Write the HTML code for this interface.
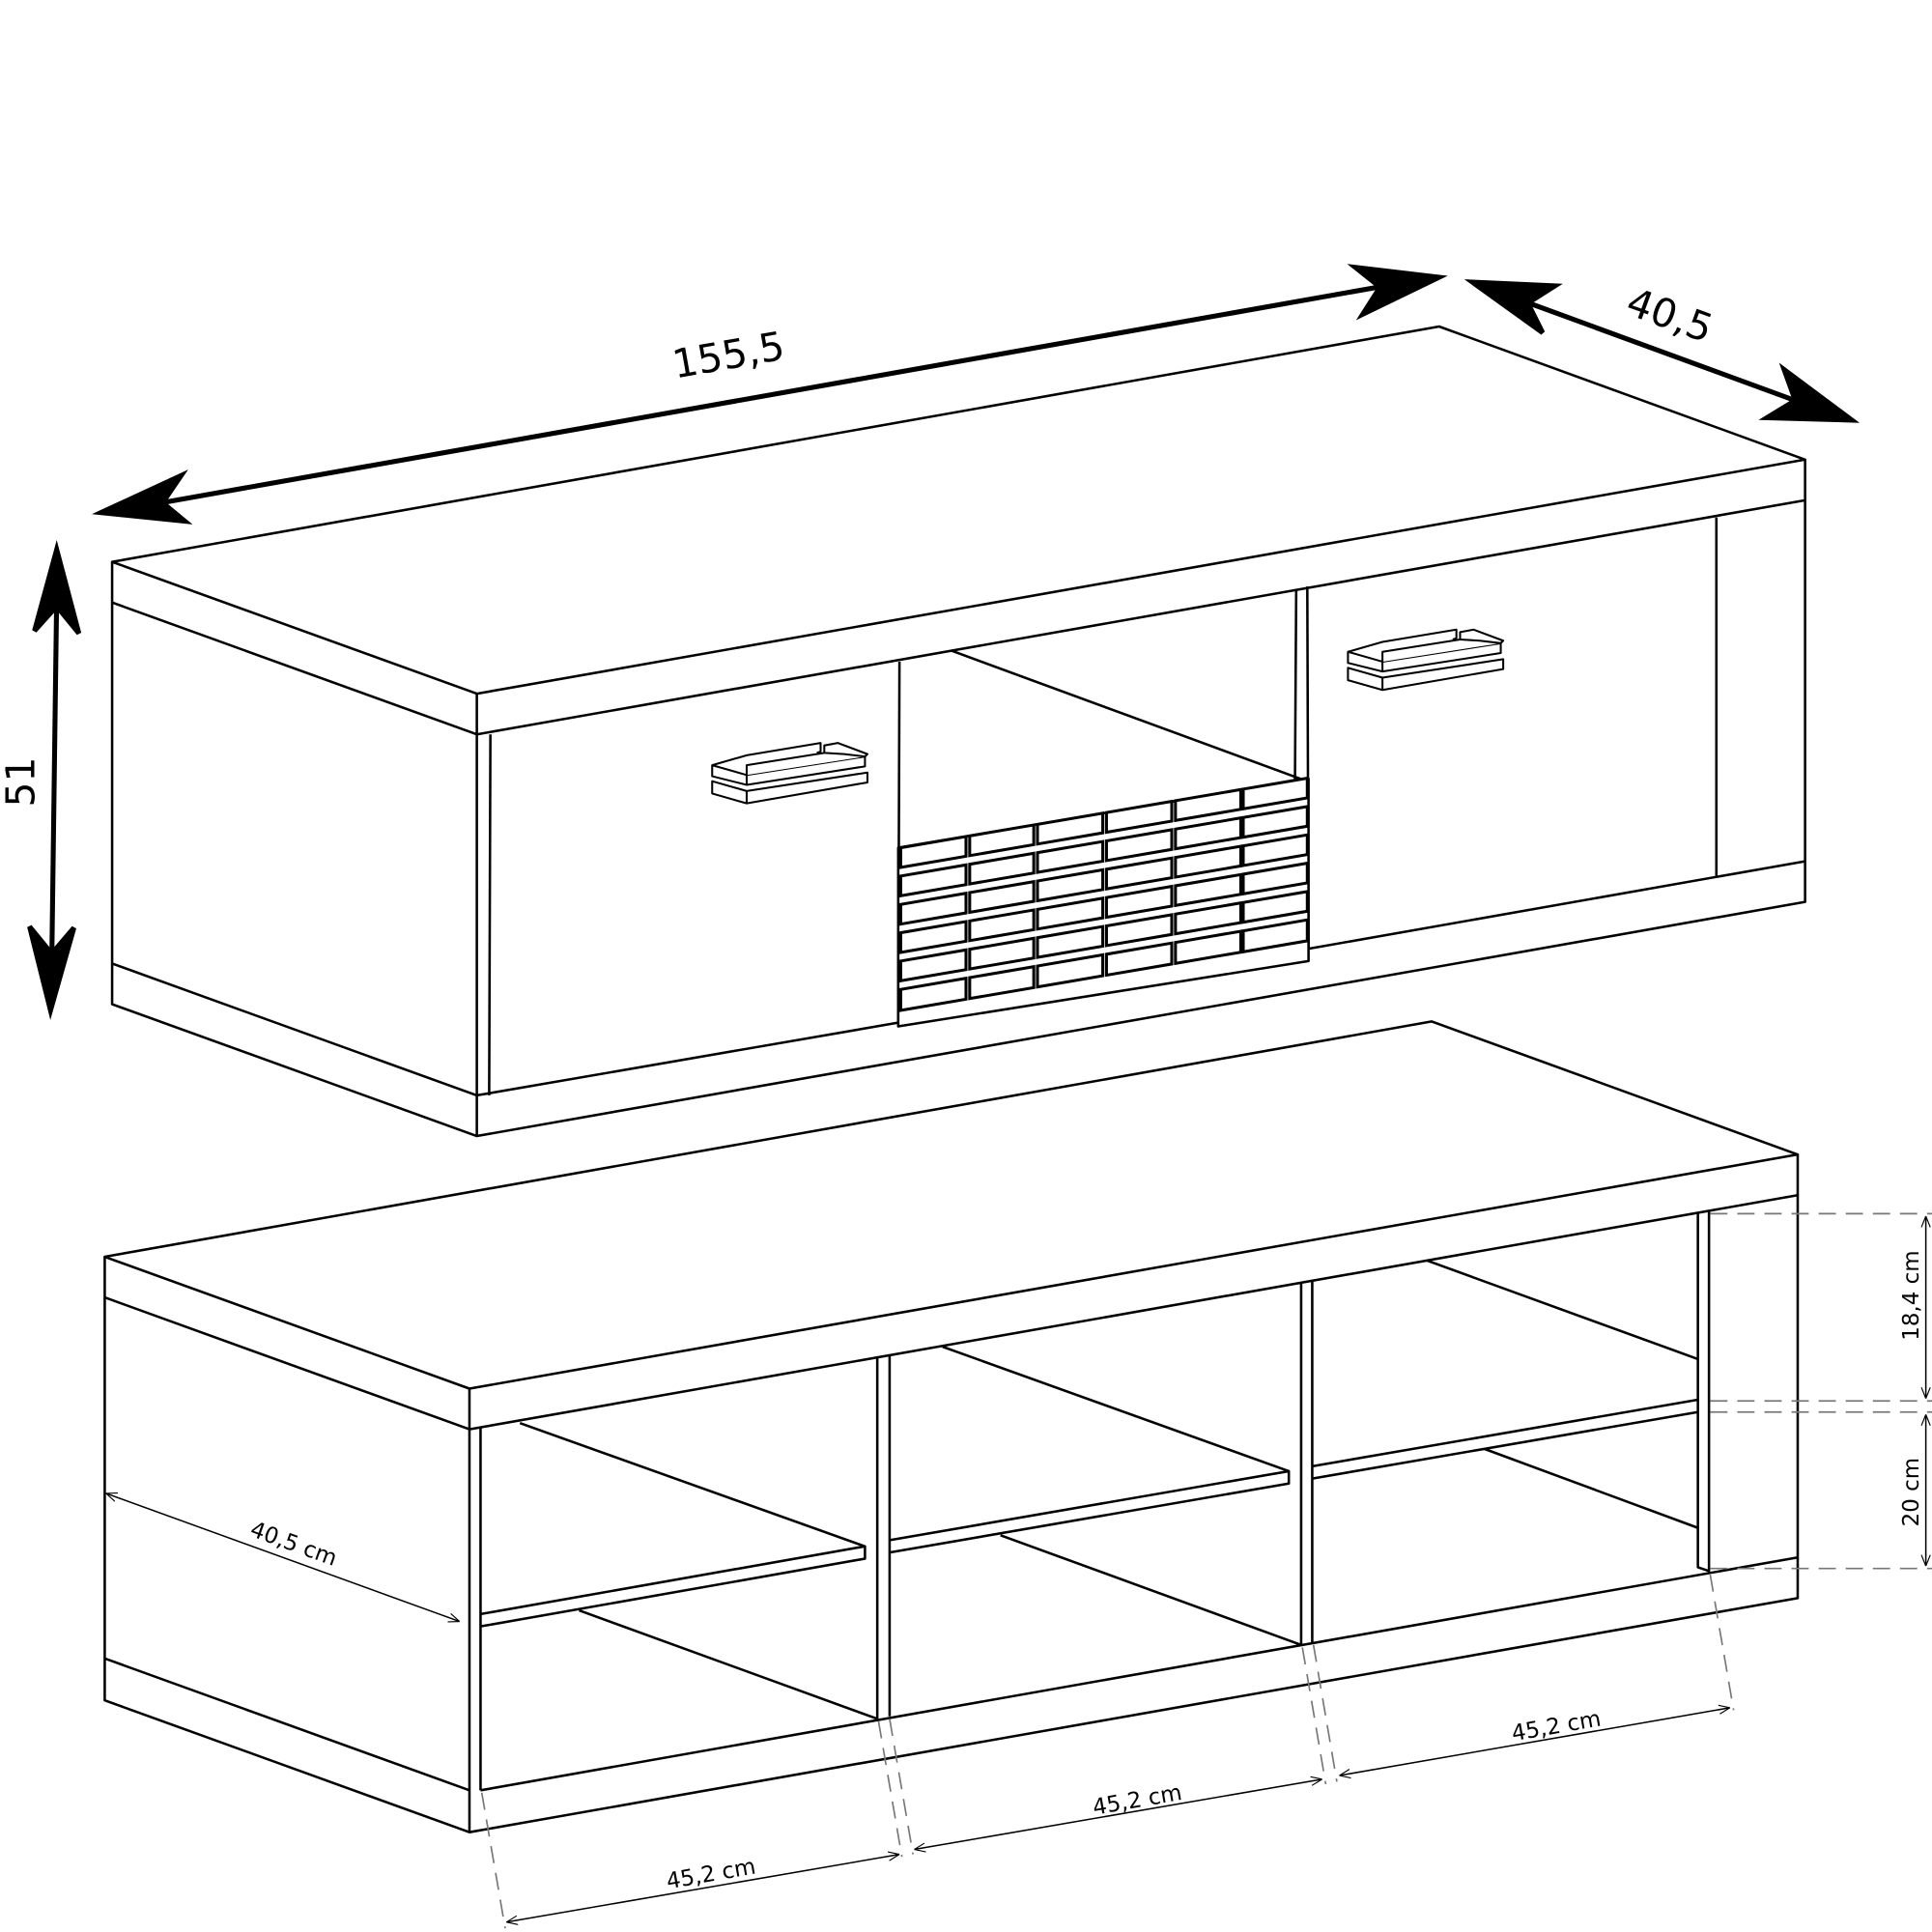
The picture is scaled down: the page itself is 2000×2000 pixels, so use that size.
<!DOCTYPE html>
<html><head><style>html,body{margin:0;padding:0;background:#fff}svg{display:block}</style></head>
<body>
<svg width="2000" height="2000" viewBox="0 0 1568 1568" xmlns="http://www.w3.org/2000/svg" font-family="DejaVu Sans, Liberation Sans, sans-serif">
<defs>
<marker id="sa" viewBox="0 0 10 10" refX="10" refY="5" markerWidth="9" markerHeight="9" orient="auto-start-reverse" markerUnits="userSpaceOnUse"><path d="M0,1 L10,5 L0,9" fill="none" stroke="#000" stroke-width="1"/></marker>
<g id="handle" fill="#fff" stroke="#000" stroke-width="1.6" stroke-linejoin="round">
<polygon points="578,634 606,642 704,627 704,635 606,652 578,644"/>
<line x1="606" y1="642" x2="606" y2="652"/>
<polygon points="578,621 606,629 702,614 702,622 606,637 578,630"/>
<line x1="606" y1="629" x2="606" y2="637"/>
<polyline points="578,621 606,613 666,603 666,610 663,611"/>
<polyline points="606,629 606,621 669,611 669,605 680,603 704,612 702,614"/>
<polyline points="669,611 685,612 702,614"/>
</g>
</defs>
<g fill="none" stroke="#000" stroke-width="2" stroke-linejoin="round">
<polygon points="91,456 1168,265 1465,373 387,563"/>
<polyline points="91,456 91,815 387,922 1465,732 1465,373"/>
<line x1="387" y1="563" x2="387" y2="922"/>
<line x1="91" y1="489" x2="387" y2="596"/>
<line x1="387" y1="596" x2="1465" y2="406"/>
<line x1="91" y1="782" x2="387" y2="889"/>
<line x1="387" y1="889" x2="729" y2="830"/>
<line x1="398" y1="596" x2="397" y2="889"/>
<line x1="730" y1="537" x2="729" y2="830"/>
<line x1="772" y1="528" x2="1058" y2="633"/>
<line x1="1052" y1="478" x2="1051" y2="633"/>
<line x1="1061" y1="476" x2="1062" y2="770"/>
<line x1="1062" y1="770" x2="1465" y2="699"/>
<line x1="1393" y1="420" x2="1393" y2="712"/>
<polygon points="729,688 1062,632 1062,780 729,833" fill="#fff"/>
</g>
<g transform="matrix(1,-0.171,0,1,0,0)" fill="#fff" stroke="#000" stroke-width="2.4">
<g transform="translate(0,813)">
<rect x="731" y="0" width="53" height="16"/><rect x="787" y="0" width="52" height="16"/><rect x="842" y="0" width="53" height="16"/><rect x="898" y="0" width="53" height="16"/><rect x="954" y="0" width="53" height="16"/><rect x="1009" y="0" width="52" height="16"/>
<rect x="731" y="23" width="53" height="16"/><rect x="787" y="23" width="52" height="16"/><rect x="842" y="23" width="53" height="16"/><rect x="898" y="23" width="53" height="16"/><rect x="954" y="23" width="53" height="16"/><rect x="1009" y="23" width="52" height="16"/>
<rect x="731" y="46" width="53" height="16"/><rect x="787" y="46" width="52" height="16"/><rect x="842" y="46" width="53" height="16"/><rect x="898" y="46" width="53" height="16"/><rect x="954" y="46" width="53" height="16"/><rect x="1009" y="46" width="52" height="16"/>
<rect x="731" y="69" width="53" height="16"/><rect x="787" y="69" width="52" height="16"/><rect x="842" y="69" width="53" height="16"/><rect x="898" y="69" width="53" height="16"/><rect x="954" y="69" width="53" height="16"/><rect x="1009" y="69" width="52" height="16"/>
<rect x="731" y="92" width="53" height="16"/><rect x="787" y="92" width="52" height="16"/><rect x="842" y="92" width="53" height="16"/><rect x="898" y="92" width="53" height="16"/><rect x="954" y="92" width="53" height="16"/><rect x="1009" y="92" width="52" height="16"/>
<rect x="731" y="115" width="53" height="17"/><rect x="787" y="115" width="52" height="17"/><rect x="842" y="115" width="53" height="17"/><rect x="898" y="115" width="53" height="17"/><rect x="954" y="115" width="53" height="17"/><rect x="1009" y="115" width="52" height="17"/>
</g></g>
<use href="#handle"/>
<use href="#handle" transform="translate(516,-92)"/>

<g fill="none" stroke="#000" stroke-width="2" stroke-linejoin="round">
<polygon points="85,1020 1162,829 1459,937 381,1127"/>
<polyline points="85,1020 85,1380 381,1487 1459,1297 1459,937"/>
<line x1="381" y1="1127" x2="381" y2="1487"/>
<line x1="85" y1="1053" x2="381" y2="1160"/>
<line x1="381" y1="1160" x2="1459" y2="970"/>
<line x1="85" y1="1346" x2="381" y2="1453"/>
<line x1="390" y1="1453" x2="1459" y2="1264"/>
<line x1="390" y1="1158" x2="390" y2="1453"/>
<line x1="712" y1="1102" x2="712" y2="1395"/>
<line x1="722" y1="1100" x2="722" y2="1393"/>
<line x1="1056" y1="1041" x2="1056" y2="1335"/>
<line x1="1065" y1="1040" x2="1065" y2="1333"/>
<polyline points="1387,983 1387,1275 1378,1272 1378,984"/>
<polyline points="390,1310 702,1255 702,1265 390,1320"/>
<line x1="422" y1="1155" x2="702" y2="1255"/>
<line x1="470" y1="1307" x2="712" y2="1395"/>
<polyline points="722,1250 1046,1194 1046,1204 722,1260"/>
<line x1="765" y1="1093" x2="1046" y2="1194"/>
<line x1="812" y1="1246" x2="1056" y2="1335"/>
<polyline points="1065,1190 1378,1136"/>
<line x1="1065" y1="1200" x2="1378" y2="1146"/>
<line x1="1158" y1="1023" x2="1378" y2="1103"/>
<line x1="1205" y1="1176" x2="1378" y2="1240"/>
</g>

<g stroke="#000" stroke-width="4" fill="#000">
<line x1="120" y1="410" x2="1130" y2="231"/>
<polygon points="82,416 147,386 132,408 150,423"/>
<polygon points="1168,225 1100,217 1120,233 1106,255"/>
<line x1="1230" y1="242" x2="1465" y2="328"/>
<polygon points="1195,229 1262,232 1240,246 1252,270"/>
<polygon points="1503,341 1448,300 1457,325 1434,339"/>
<line x1="46" y1="485" x2="42" y2="782"/>
<polygon points="46,446 28,512 46,492 64,514"/>
<polygon points="41,820 60,753 42,774 24,752"/>
</g>
<g font-size="32" fill="#000">
<text x="0" y="0" transform="translate(548,307) rotate(-10)">155,5</text>
<text x="0" y="0" transform="translate(1318,254) rotate(20)">40,5</text>
<text x="0" y="0" transform="translate(28,655) rotate(-90)">51</text>
</g>

<g stroke="#777" stroke-width="1.3" stroke-dasharray="14,8" fill="none">
<line x1="1388" y1="985" x2="1568" y2="985"/>
<line x1="1388" y1="1137" x2="1568" y2="1137"/>
<line x1="1388" y1="1146" x2="1568" y2="1146"/>
<line x1="1388" y1="1273" x2="1568" y2="1273"/>
<line x1="391" y1="1455" x2="410" y2="1565"/>
<line x1="713" y1="1397" x2="732" y2="1507"/>
<line x1="722" y1="1395" x2="741" y2="1505"/>
<line x1="1057" y1="1337" x2="1076" y2="1448"/>
<line x1="1066" y1="1335" x2="1085" y2="1446"/>
<line x1="1388" y1="1278" x2="1407" y2="1388"/>
</g>
<g stroke="#000" stroke-width="1.2" fill="none" marker-start="url(#sa)" marker-end="url(#sa)">
<line x1="1563" y1="987" x2="1563" y2="1135"/>
<line x1="1563" y1="1148" x2="1563" y2="1271"/>
<line x1="86" y1="1212" x2="373" y2="1316"/>
<line x1="411" y1="1560" x2="730" y2="1505"/>
<line x1="742" y1="1501" x2="1073" y2="1444"/>
<line x1="1087" y1="1441" x2="1404" y2="1386"/>
</g>
<g font-size="18" fill="#000">
<text transform="translate(1557,1088) rotate(-90)">18,4 cm</text>
<text transform="translate(1557,1239) rotate(-90)">20 cm</text>
<text transform="translate(202,1246) rotate(20)">40,5 cm</text>
<text transform="translate(542,1533) rotate(-10)">45,2 cm</text>
<text transform="translate(888,1473) rotate(-10)">45,2 cm</text>
<text transform="translate(1228,1413) rotate(-10)">45,2 cm</text>
</g>
</svg>
</body></html>
